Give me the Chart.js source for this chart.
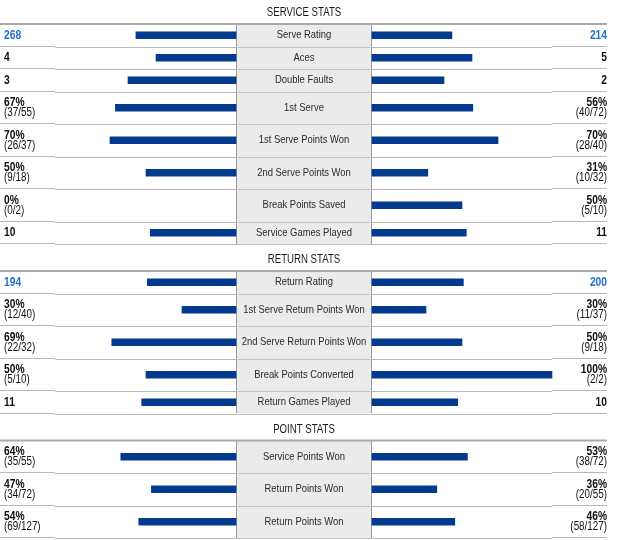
<!DOCTYPE html>
<html>
<head>
<meta charset="utf-8">
<script src="https://cdn.jsdelivr.net/npm/chart.js@4.4.1/dist/chart.umd.min.js"></script>
<style>
  html, body { margin: 0; padding: 0; background: #ffffff; }
  #wrap { width: 620px; height: 540px; position: relative; }
  canvas { display: block; }
</style>
</head>
<body>
<div id="wrap"><canvas id="c" width="620" height="540"></canvas></div>
<script>
// ---------------- DATA ----------------
const sectionTitles = ['SERVICE STATS', 'RETURN STATS', 'POINT STATS'];
const categories = [
  'Serve Rating', 'Aces', 'Double Faults', '1st Serve', '1st Serve Points Won',
  '2nd Serve Points Won', 'Break Points Saved', 'Service Games Played',
  'Return Rating', '1st Serve Return Points Won', '2nd Serve Return Points Won',
  'Break Points Converted', 'Return Games Played',
  'Service Points Won', 'Return Points Won', 'Return Points Won'
];
const rowSection = [0,0,0,0,0,0,0,0, 1,1,1,1,1, 2,2,2];
const ratingRows = [0, 8];
const leftValues  = [268, 4, 3, 67, 70, 50, 0, 10, 194, 30, 69, 50, 11, 64, 47, 54];
const rightValues = [214, 5, 2, 56, 70, 31, 50, 11, 200, 30, 50, 100, 10, 53, 36, 46];
const isPercent   = [false,false,false,true,true,true,true,false, false,true,true,true,false, true,true,true];
const leftSub  = ['', '', '', '(37/55)', '(26/37)', '(9/18)', '(0/2)', '', '', '(12/40)', '(22/32)', '(5/10)', '', '(35/55)', '(34/72)', '(69/127)'];
const rightSub = ['', '', '', '(40/72)', '(28/40)', '(10/32)', '(5/10)', '', '', '(11/37)', '(9/18)', '(2/2)', '', '(38/72)', '(20/55)', '(58/127)'];

// ---------------- LAYOUT / STYLE ----------------
const W = 620, H = 540;
const CENTER_X = 304, HALF_BOX = 68, PX_PER_UNIT = 1.8;
const TOP_LINE = 24, SECTION_GAP = 27, ROW1 = 22.5, ROW2 = 32.5;
const RIGHT_EDGE = 607, LEFT_TEXT = 4;
const BAR_COLOR = '#023a8e', BLUE_TEXT = '#1f6fd0';

// detect narrow font
function hasFont(name) {
  const c = document.createElement('canvas').getContext('2d');
  const s = 'Return Points Won 0123456789';
  c.font = '40px monospace'; const a = c.measureText(s).width;
  c.font = '40px "' + name + '", monospace'; const b = c.measureText(s).width;
  return Math.abs(a - b) > 0.5;
}
const NARROW = hasFont('Liberation Sans Narrow');
const FAMILY = NARROW ? '"Liberation Sans Narrow"' : '"Liberation Sans", Arial, sans-serif';
const SX = NARROW ? 1 : 0.82;

// derived row geometry (from row line counts)
const twoLine = leftSub.map((s, i) => s !== '' || rightSub[i] !== '');
const rowCenter = [], rowTop = [], rowBottom = [], sectionTop = [], sectionBottom = [];
(function () {
  let y = TOP_LINE;
  sectionTitles.forEach((t, s) => {
    if (s > 0) y += SECTION_GAP;
    sectionTop[s] = y;
    categories.forEach((c, i) => {
      if (rowSection[i] !== s) return;
      const h = twoLine[i] ? ROW2 : ROW1;
      rowTop[i] = y; rowCenter[i] = y + h / 2; y += h; rowBottom[i] = y;
    });
    sectionBottom[s] = y;
  });
})();

// bar lengths: percentages directly, counts as share of the pair total
const leftBar = leftValues.map((v, i) => isPercent[i] ? v : 100 * v / (v + rightValues[i]));
const rightBar = rightValues.map((v, i) => isPercent[i] ? v : 100 * v / (leftValues[i] + v));
const GAP_U = HALF_BOX / PX_PER_UNIT;

function txt(ctx, s, x, y, align, font, color, sx) {
  ctx.save();
  ctx.font = font; ctx.fillStyle = color; ctx.textBaseline = 'middle';
  ctx.translate(x, y); ctx.scale(SX * (sx || 1), 1);
  ctx.textAlign = align;
  ctx.fillText(s, 0, 0);
  ctx.restore();
}
function hline(ctx, x1, x2, y, color, w) {
  ctx.save(); ctx.strokeStyle = color; ctx.lineWidth = w;
  ctx.beginPath(); ctx.moveTo(x1, y); ctx.lineTo(x2, y); ctx.stroke(); ctx.restore();
}

const tablePlugin = {
  id: 'table',
  beforeDatasetsDraw(chart) {
    const ctx = chart.ctx, ys = chart.scales.y, xs = chart.scales.x;
    const boxL = xs.getPixelForValue(-GAP_U), boxR = xs.getPixelForValue(GAP_U);
    const cx = xs.getPixelForValue(0);
    sectionTitles.forEach((t, s) => {
      const top = ys.getPixelForValue(sectionTop[s]);
      const bot = ys.getPixelForValue(sectionBottom[s]);
      txt(ctx, t, cx, top - 11, 'center', '12.5px ' + FAMILY, '#1a1a1a', 0.94);
      ctx.fillStyle = '#ebebeb';
      ctx.fillRect(boxL, top, boxR - boxL, bot - top);
      ctx.save(); ctx.strokeStyle = '#9a9a9a'; ctx.lineWidth = 1;
      ctx.beginPath();
      ctx.moveTo(Math.round(boxL) + 0.5, top); ctx.lineTo(Math.round(boxL) + 0.5, bot);
      ctx.moveTo(Math.round(boxR) - 0.5, top); ctx.lineTo(Math.round(boxR) - 0.5, bot);
      ctx.stroke(); ctx.restore();
    });
    categories.forEach((c, i) => {
      const yb = Math.round(ys.getPixelForValue(rowBottom[i])) + 0.5;
      hline(ctx, 0, 55, yb - 1, '#b8b8b8', 1);
      hline(ctx, 55, boxL, yb, '#b8b8b8', 1);
      hline(ctx, boxL, boxR, yb, '#c4c4c4', 1);
      hline(ctx, boxR, 552, yb, '#b8b8b8', 1);
      hline(ctx, 552, RIGHT_EDGE, yb - 1, '#b8b8b8', 1);
    });
    sectionTitles.forEach((t, s) => {
      const top = ys.getPixelForValue(sectionTop[s]);
      hline(ctx, 0, RIGHT_EDGE, top, '#a9a9a9', 2);
    });
    categories.forEach((c, i) => {
      const y = ys.getPixelForValue(rowCenter[i]);
      txt(ctx, c, cx, y, 'center', '11.5px ' + FAMILY, '#2a2a2a');
      const rating = ratingRows.includes(i);
      const col = rating ? BLUE_TEXT : '#0d0d0d';
      const lMain = leftValues[i] + (isPercent[i] ? '%' : '');
      const rMain = rightValues[i] + (isPercent[i] ? '%' : '');
      if (twoLine[i]) {
        txt(ctx, lMain, LEFT_TEXT, y - 5, 'left', 'bold 12.5px ' + FAMILY, col);
        txt(ctx, leftSub[i], LEFT_TEXT, y + 5, 'left', '12px ' + FAMILY, '#111');
        txt(ctx, rMain, RIGHT_EDGE, y - 5, 'right', 'bold 12.5px ' + FAMILY, col);
        txt(ctx, rightSub[i], RIGHT_EDGE, y + 5, 'right', '12px ' + FAMILY, '#111');
      } else {
        txt(ctx, lMain, LEFT_TEXT, y, 'left', 'bold 12.5px ' + FAMILY, col);
        txt(ctx, rMain, RIGHT_EDGE, y, 'right', 'bold 12.5px ' + FAMILY, col);
      }
    });
  }
};

new Chart(document.getElementById('c'), {
  type: 'bar',
  data: {
    datasets: [
      {
        label: 'Left',
        data: categories.map((c, i) => ({ y: rowCenter[i], x: leftBar[i] > 0 ? [-GAP_U - leftBar[i], -GAP_U] : null })),
        backgroundColor: BAR_COLOR, borderWidth: 0, barThickness: 7, grouped: false
      },
      {
        label: 'Right',
        data: categories.map((c, i) => ({ y: rowCenter[i], x: rightBar[i] > 0 ? [GAP_U, GAP_U + rightBar[i]] : null })),
        backgroundColor: BAR_COLOR, borderWidth: 0, barThickness: 7, grouped: false
      }
    ]
  },
  options: {
    indexAxis: 'y',
    responsive: false,
    animation: false,
    layout: { padding: 0 },
    plugins: { legend: { display: false }, tooltip: { enabled: false } },
    scales: {
      x: { type: 'linear', display: false, offset: false, min: -CENTER_X / PX_PER_UNIT, max: (W - CENTER_X) / PX_PER_UNIT },
      y: { type: 'linear', display: false, offset: false, min: 0, max: H, reverse: true }
    }
  },
  plugins: [tablePlugin]
});
</script>
</body>
</html>
